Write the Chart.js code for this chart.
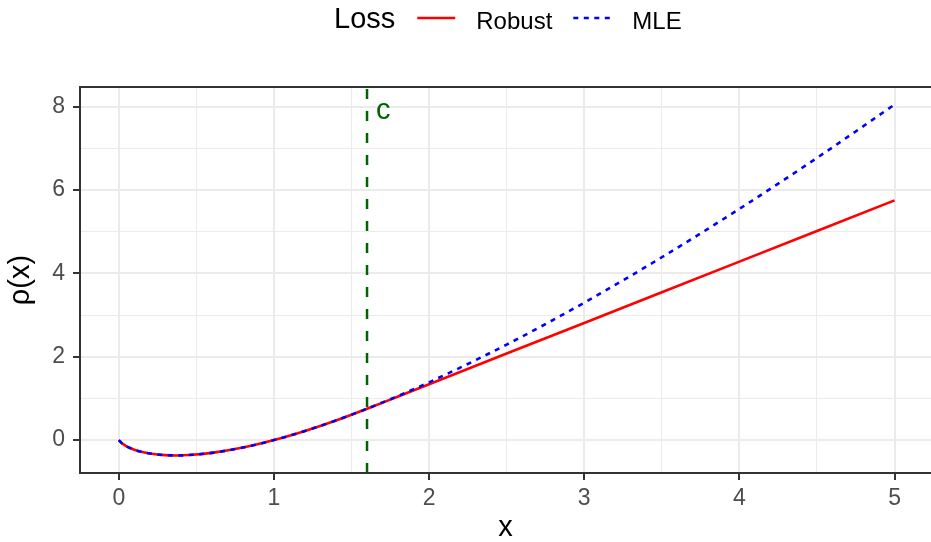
<!DOCTYPE html>
<html>
<head>
<meta charset="utf-8">
<script src="https://cdn.jsdelivr.net/npm/chart.js@4/dist/chart.umd.min.js"></script>
<style>
  html, body { margin: 0; padding: 0; background: #fff; overflow: hidden; }
  #wrap { width: 931px; height: 542px; }
</style>
</head>
<body>
<div id="wrap"><canvas id="lossChart" width="931" height="542"></canvas></div>
<script>
// sample points along x
const xs = [0, 0.02, 0.05, 0.1, 0.15, 0.2, 0.3, 0.37, 0.45, 0.6, 0.8, 1.0, 1.2, 1.4, 1.6, 1.8, 2.0, 2.5, 3.0, 3.5, 4.0, 4.5, 5.0];
const mleValues = [0, -0.078, -0.150, -0.230, -0.285, -0.322, -0.361, -0.368, -0.359, -0.306, -0.179, 0, 0.219, 0.471, 0.752, 1.058, 1.386, 2.291, 3.296, 4.385, 5.545, 6.768, 8.047];
const robustValues = [0, -0.078, -0.150, -0.230, -0.285, -0.322, -0.361, -0.368, -0.359, -0.306, -0.179, 0, 0.219, 0.471, 0.752, 1.046, 1.340, 2.075, 2.810, 3.545, 4.280, 5.015, 5.750];

// cutoff c
const cutoff = 1.6;

// axis ranges and breaks (panel runs off the right edge)
const xRange = [-0.25, 5.235];
const yRange = [-0.789, 8.468];
const xMajor = [0, 1, 2, 3, 4, 5];
const xMinor = [0.5, 1.5, 2.5, 3.5, 4.5];
const yMajor = [0, 2, 4, 6, 8];
const yMinor = [1, 3, 5, 7];

const FONT = '"Liberation Sans", Arial, Helvetica, sans-serif';

const toPoints = (ys) => xs.map((x, i) => ({ x: x, y: ys[i] }));
const isMajor = (list, v) => list.some(m => Math.abs(m - v) < 1e-9);

function gridOpts(major) {
    return {
        color: '#EBEBEB',
        lineWidth: ctx => isMajor(major, ctx.tick.value) ? 2 : 1,
        tickColor: ctx => isMajor(major, ctx.tick.value) ? '#333333' : 'rgba(0,0,0,0)',
        tickLength: 7,
        tickWidth: 2
    };
}

// panel border, cutoff label and legend
const decorations = {
    id: 'decorations',
    afterDatasetsDraw(chart) {
        const { ctx, chartArea: a, scales } = chart;
        ctx.save();
        ctx.strokeStyle = '#333333';
        ctx.lineWidth = 2;
        ctx.beginPath();
        ctx.moveTo(chart.width + 2, a.top);
        ctx.lineTo(a.left, a.top);
        ctx.lineTo(a.left, a.bottom);
        ctx.lineTo(chart.width + 2, a.bottom);
        ctx.stroke();

        ctx.fillStyle = '#006400';
        ctx.font = '29px ' + FONT;
        ctx.textAlign = 'left';
        ctx.textBaseline = 'alphabetic';
        ctx.fillText('c', scales.x.getPixelForValue(cutoff) + 9, scales.y.getPixelForValue(8) + 12);
        ctx.restore();
    },
    afterDraw(chart) {
        const ctx = chart.ctx;
        ctx.save();
        ctx.fillStyle = '#000';
        ctx.textBaseline = 'alphabetic';
        ctx.textAlign = 'left';
        let x = 334;
        ctx.font = '29px ' + FONT;
        ctx.fillText('Loss', x, 28);
        x += ctx.measureText('Loss').width + 22;
        ctx.font = '24px ' + FONT;
        chart.data.datasets
            .filter(d => d.legendRank)
            .sort((a, b) => a.legendRank - b.legendRank)
            .forEach(d => {
                ctx.beginPath();
                ctx.strokeStyle = d.borderColor;
                ctx.lineWidth = d.borderWidth;
                ctx.setLineDash(d.borderDash || []);
                ctx.moveTo(x, 18);
                ctx.lineTo(x + 38, 18);
                ctx.stroke();
                ctx.setLineDash([]);
                x += 38 + 21;
                ctx.fillText(d.label, x, 28.5);
                x += ctx.measureText(d.label).width + 21;
            });
        ctx.restore();
    }
};

new Chart(document.getElementById('lossChart').getContext('2d'), {
    type: 'line',
    data: {
        datasets: [
            {
                label: 'c',
                data: [{ x: cutoff, y: yRange[0] }, { x: cutoff, y: yRange[1] }],
                borderColor: '#006400',
                borderWidth: 2.5,
                borderDash: [10, 12],
                pointRadius: 0,
                order: 0
            },
            {
                label: 'MLE',
                data: toPoints(mleValues),
                borderColor: '#0000FF',
                borderWidth: 2.6,
                borderDash: [5, 5.5],
                cubicInterpolationMode: 'monotone',
                pointRadius: 0,
                legendRank: 2,
                order: 1
            },
            {
                label: 'Robust',
                data: toPoints(robustValues),
                borderColor: '#FF0000',
                borderWidth: 2.6,
                cubicInterpolationMode: 'monotone',
                pointRadius: 0,
                legendRank: 1,
                order: 2
            }
        ]
    },
    options: {
        responsive: false,
        animation: false,
        layout: { padding: { top: 87, right: 0, bottom: 0, left: 0 } },
        plugins: { legend: { display: false }, tooltip: { enabled: false } },
        scales: {
            x: {
                type: 'linear',
                min: xRange[0],
                max: xRange[1],
                afterBuildTicks: s => { s.ticks = xMajor.concat(xMinor).sort((a, b) => a - b).map(v => ({ value: v })); },
                afterFit: s => { s.height = 69; },
                grid: gridOpts(xMajor),
                border: { display: false },
                ticks: {
                    autoSkip: false,
                    maxRotation: 0,
                    padding: 5,
                    color: '#4D4D4D',
                    font: { family: FONT, size: 23 },
                    callback: v => isMajor(xMajor, v) ? String(v) : ''
                },
                title: {
                    display: true,
                    text: 'x',
                    color: '#000',
                    font: { family: FONT, size: 29, lineHeight: 1 },
                    padding: 0
                }
            },
            y: {
                type: 'linear',
                min: yRange[0],
                max: yRange[1],
                afterBuildTicks: s => { s.ticks = yMajor.concat(yMinor).sort((a, b) => a - b).map(v => ({ value: v })); },
                afterFit: s => { s.width = 80; },
                grid: gridOpts(yMajor),
                border: { display: false },
                ticks: {
                    autoSkip: false,
                    padding: 8,
                    color: '#4D4D4D',
                    font: { family: FONT, size: 23 },
                    callback: v => isMajor(yMajor, v) ? String(v) : ''
                },
                title: {
                    display: true,
                    text: 'ρ(x)',
                    color: '#000',
                    font: { family: FONT, size: 29, lineHeight: 1 },
                    padding: { top: 6, bottom: 0 }
                }
            }
        }
    },
    plugins: [decorations]
});
</script>
</body>
</html>
